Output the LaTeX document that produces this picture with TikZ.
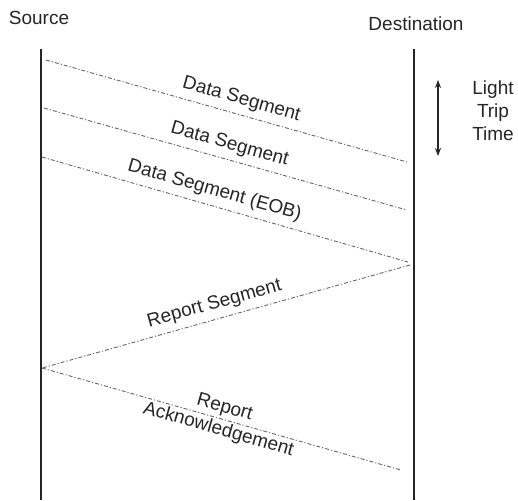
\documentclass[tikz,border=0pt]{standalone}
\usepackage{fontspec}
\setmainfont{Liberation Sans}
\usetikzlibrary{arrows.meta}
\tikzset{
  lifeline/.style={line width=1.1pt, black!85},
  msg/.style={line width=0.45pt, black!60, dash pattern=on 2pt off 1pt on 0.6pt off 1pt},
  lbl/.style={text=black!85, font=\fontsize{9.5}{11.5}\selectfont, inner sep=3pt},
  rtt/.style={line width=0.6pt, black!85, {Stealth[length=4pt,width=3pt]}-{Stealth[length=4pt,width=3pt]}}
}
\begin{document}
\begin{tikzpicture}[x=0.5pt,y=-0.5pt]
\useasboundingbox (0,0) rectangle (518,500);
\fill[white] (0,0) rectangle (518,500);
% headers
\node[lbl] (src) at (39,18) {Source};
\node[lbl] (dst) at (416,24) {Destination};
% lifelines
\coordinate (stop) at (41,49);
\coordinate (sbot) at (41,500);
\coordinate (dtop) at (414,49);
\coordinate (dbot) at (414,500);
\draw[lifeline] (stop) -- (sbot);
\draw[lifeline] (dtop) -- (dbot);
% message endpoints
\coordinate (s1) at (46,60);
\coordinate (d1) at (407,162);
\coordinate (s2) at (44,108);
\coordinate (d2) at (407,210);
\coordinate (s3) at (42,157);
\coordinate (d3) at (408,262);
\coordinate (d4) at (410,265);
\coordinate (s4) at (42,368);
\coordinate (d5) at (401,470);
\draw[msg] (s1) -- node[lbl, sloped, above, pos=0.53] (m1) {Data Segment} (d1);
\draw[msg] (s2) -- node[lbl, sloped, above, pos=0.5] (m2) {Data Segment} (d2);
\draw[msg] (s3) -- node[lbl, sloped, above, pos=0.46] (m3) {Data Segment (EOB)} (d3);
\draw[msg] (d4) -- node[lbl, sloped, above, pos=0.52] (m4) {Report Segment} (s4);
\draw[msg] (s4) -- node[lbl, sloped, pos=0.5, align=center] (m5) {Report\\Acknowledgement} (d5);
% light trip time
\coordinate (ltop) at (438,80);
\coordinate (lbot) at (438,156);
\draw[rtt] (ltop) -- (lbot);
\node[lbl, align=center] (ltt) at (493,111) {Light\\Trip\\Time};
\end{tikzpicture}
\end{document}
